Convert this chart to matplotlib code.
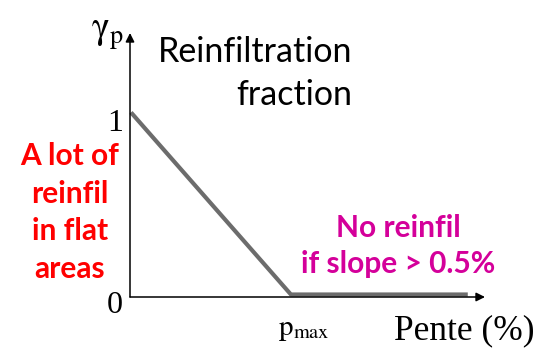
import numpy as np
import matplotlib.pyplot as plt
import matplotlib.transforms as mtransforms

plt.rcParams['mathtext.fontset'] = 'stix'

# curve: reinfiltration fraction vs slope (pmax = 1)
slope = [0.0, 1.0, 2.106]
gamma = [1.0, 0.0, 0.0]
ytick_vals = [0, 1]
ytick_labels = ['0', '1']
pmax = 1.0
xmax = 2.22
ymax = 1.45

W, H = 548, 354
fig = plt.figure(figsize=(W / 100, H / 100), dpi=100)
ax = fig.add_axes([130 / W, 57 / H, 355 / W, 264 / H])
ax.set_xlim(0, xmax)
ax.set_ylim(0, ymax)
ax.axis('off')


def px(x, y):
    # pixel position -> figure fraction
    return x / W, 1 - y / H


# axes with arrows
arrow = dict(arrowstyle='-|>', color='black', lw=1.1, mutation_scale=13,
             shrinkA=0, shrinkB=0)
ax.annotate('', xy=(xmax, 0), xytext=(0, 0), arrowprops=arrow, zorder=4)
ax.annotate('', xy=(0, ymax), xytext=(0, 0), arrowprops=arrow, zorder=4)

# curve sits just on top of the x axis line, like the scanned figure
lift = mtransforms.offset_copy(ax.transData, fig=fig, x=1, y=2.5, units='dots')
ax.plot(slope, gamma, color='#6c6c6c', linewidth=3.0, solid_capstyle='butt',
        clip_on=False, zorder=3, transform=lift)

serif = 'Liberation Serif'
for v, lab in zip(ytick_vals, ytick_labels):
    ax.annotate(lab, xy=(0, v), xytext=(-15, -16), textcoords='offset pixels',
                fontsize=23, family=serif, ha='center', va='baseline')
ax.annotate(r'$\mathrm{p}_{\mathrm{max}}$', xy=(pmax, 0), xytext=(14, -38),
            textcoords='offset pixels', fontsize=21, ha='center', va='baseline')
fig.text(*px(394, 339), 'Pente (%)', fontsize=25.5, family=serif,
         ha='left', va='baseline')
fig.text(*px(91, 39), r'$\mathrm{\gamma}_{\mathrm{p}}$', fontsize=27,
         ha='left', va='baseline')

sans = 'Lato'
title_lines = ['Reinfiltration', 'fraction']
for line, y in zip(title_lines, [62, 105]):
    fig.text(*px(352, y), line, fontsize=24.5, family=sans, color='black',
             ha='right', va='baseline')

red_lines = ['A lot of', 'reinfil', 'in flat', 'areas']
for line, y in zip(red_lines, [165, 202.7, 240.3, 278]):
    fig.text(*px(70, y), line, fontsize=21.5, family=sans, weight='bold',
             color='#ff0000', ha='center', va='baseline')

pink_lines = ['No reinfil', 'if slope > 0.5%']
for line, y in zip(pink_lines, [237, 273]):
    fig.text(*px(398, y), line, fontsize=21.5, family=sans, weight='bold',
             color='#d4009a', ha='center', va='baseline')

fig.savefig('out.png', dpi=100)
